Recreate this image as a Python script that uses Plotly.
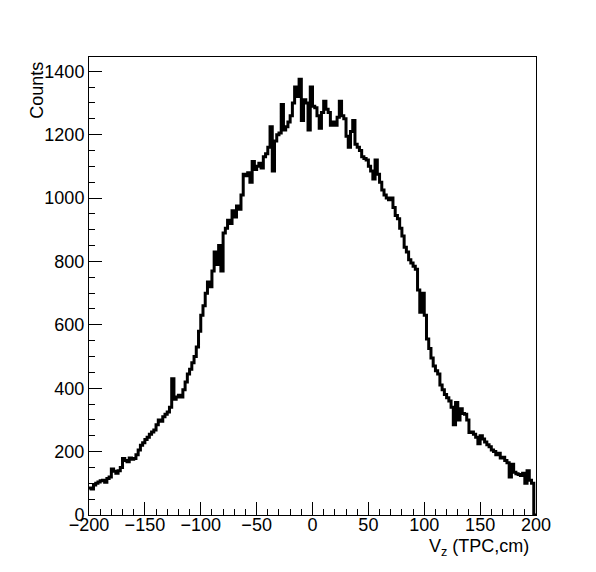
import plotly.graph_objects as go

# Histogram definition: 200 bins of 2 cm from -200 to 200
bin_low = -200.0
bin_width = 2.0

counts = [
    # -200 .. -180
    85, 82, 95, 100, 104, 108, 110, 103, 115, 120,
    # -180 .. -160
    145, 138, 132, 140, 150, 178, 172, 168, 180, 176,
    # -160 .. -140
    178, 190, 205, 220, 228, 238, 245, 255, 262, 268,
    # -140 .. -120
    285, 300, 296, 310, 318, 325, 340, 430, 365, 372,
    # -120 .. -100
    378, 372, 395, 420, 445, 460, 480, 500, 530, 580,
    # -100 .. -80
    630, 660, 700, 735, 720, 770, 830, 790, 850, 770,
    # -80 .. -60
    890, 905, 930, 920, 960, 940, 975, 965, 1010, 1075,
    # -60 .. -40
    1070, 1080, 1050, 1115, 1090, 1100, 1110, 1095, 1130, 1140,
    # -40 .. -20
    1160, 1225, 1085, 1180, 1200, 1205, 1295, 1215, 1225, 1240,
    # -20 .. 0
    1260, 1300, 1350, 1320, 1375, 1245, 1310, 1300, 1215, 1350,
    # 0 .. 20
    1290, 1285, 1260, 1220, 1270, 1305, 1280, 1270, 1230, 1240,
    # 20 .. 40
    1230, 1255, 1305, 1260, 1250, 1195, 1160, 1210, 1245, 1170,
    # 40 .. 60
    1160, 1150, 1130, 1125, 1120, 1100, 1085, 1060, 1120, 1075,
    # 60 .. 80
    1050, 1025, 1010, 1000, 995, 1000, 970, 945, 935, 905,
    # 80 .. 100
    880, 845, 830, 805, 795, 785, 775, 710, 640, 700,
    # 100 .. 120
    630, 555, 525, 495, 470, 455, 445, 410, 395, 380,
    # 120 .. 140
    370, 360, 340, 285, 355, 300, 335, 320, 318, 300,
    # 140 .. 160
    260, 262, 255, 245, 225, 250, 240, 230, 222, 215,
    # 160 .. 180
    205, 200, 190, 195, 180, 182, 172, 165, 120, 160,
    # 180 .. 200
    135, 130, 128, 125, 132, 100, 140, 110, 100, 0,
]

x_ticks = [-200, -150, -100, -50, 0, 50, 100, 150, 200]
y_ticks = [0, 200, 400, 600, 800, 1000, 1200, 1400]

n = len(counts)
edges = [bin_low + i * bin_width for i in range(n + 1)]
xs = edges
ys = counts + [counts[-1]]

fig = go.Figure()
fig.add_trace(go.Scatter(
    x=xs, y=ys, mode="lines", line_shape="hv",
    line=dict(color="black", width=3),
    showlegend=False, hoverinfo="skip", cliponaxis=True,
))

font = "Liberation Sans, Arial, Helvetica, sans-serif"

fig.update_layout(
    width=596, height=572,
    margin=dict(l=81, r=68, t=49, b=65),
    paper_bgcolor="white", plot_bgcolor="white",
    font=dict(family=font, size=18, color="black"),
    xaxis=dict(
        range=[-200, 200], tickvals=x_ticks,
        ticktext=[("\u2212" + str(-v)) if v < 0 else str(v) for v in x_ticks],
        ticks="inside", ticklen=13, tickwidth=1, tickcolor="black",
        minor=dict(dtick=10, ticks="inside", ticklen=6, tickcolor="black", showgrid=False),
        showline=True, linecolor="black", linewidth=1, mirror=True,
        showgrid=False, zeroline=False,
        tickfont=dict(size=18),
        ticklabelstandoff=-7,
    ),
    yaxis=dict(
        range=[0, 1445], tickvals=y_ticks,
        ticks="inside", ticklen=13, tickwidth=1, tickcolor="black",
        minor=dict(dtick=50, ticks="inside", ticklen=6, tickcolor="black", showgrid=False),
        showline=True, linecolor="black", linewidth=1, mirror=True,
        showgrid=False, zeroline=False,
        tickfont=dict(size=18),
    ),
    annotations=[
        dict(text="Counts", xref="paper", yref="paper", x=-0.116, y=0.993,
             xanchor="center", yanchor="top", textangle=-90, showarrow=False,
             font=dict(size=18)),
        dict(text="V<sub>z</sub> (TPC,cm)", xref="paper", yref="paper", x=0.989, y=-0.072,
             xanchor="right", yanchor="middle", showarrow=False,
             font=dict(size=18)),
    ],
)

fig.write_html("out.html")
